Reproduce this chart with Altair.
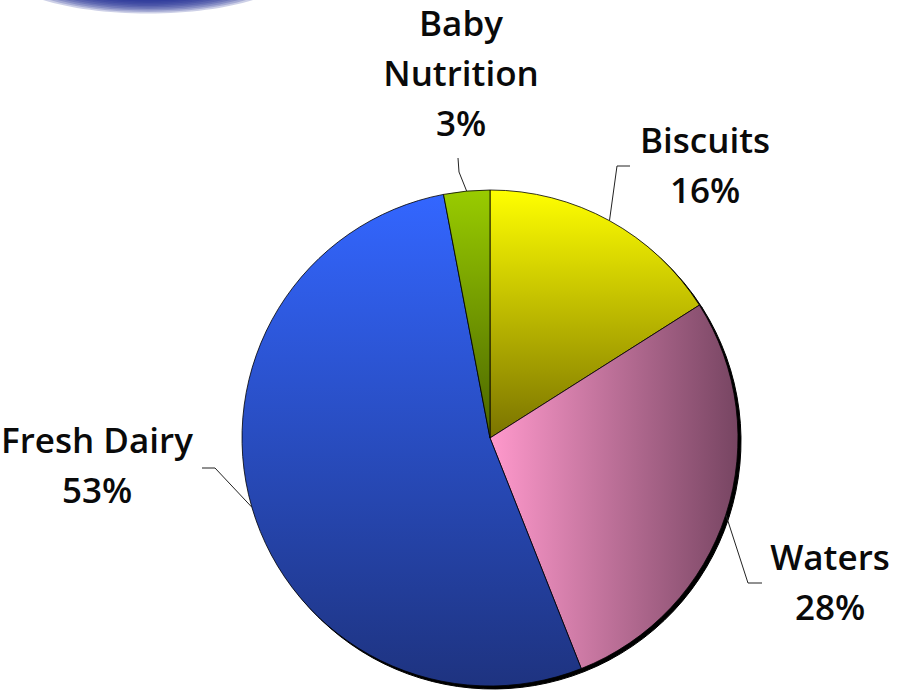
import altair as alt
import pandas as pd

# ---- data ----
categories = ["Biscuits", "Waters", "Fresh Dairy", "Baby Nutrition"]
values = [16, 28, 53, 3]
labels = ["Biscuits\n16%", "Waters\n28%", "Fresh Dairy\n53%", "Baby\nNutrition\n3%"]

# ---- layout (pixels) ----
CX, CY, R = 490, 438, 248
label_layout = {
    "Biscuits":       dict(tx=705, ty=153, ex=617, ey=166, hx=630, hy=166),
    "Waters":         dict(tx=830, ty=570, ex=748, ey=583, hx=762, hy=583),
    "Fresh Dairy":    dict(tx=97,  ty=453, ex=215, ey=468, hx=202, hy=468),
    "Baby Nutrition": dict(tx=461, ty=36,  ex=459, ey=172, hx=458, hy=158),
}
gradients = {
    "Biscuits": alt.LinearGradient(gradient="linear", x1=0, y1=0, x2=0, y2=1,
        stops=[alt.GradientStop(color="#FFFF00", offset=0), alt.GradientStop(color="#7A7300", offset=1)]),
    "Waters": alt.LinearGradient(gradient="linear", x1=0, y1=0, x2=1, y2=0,
        stops=[alt.GradientStop(color="#FF99CC", offset=0), alt.GradientStop(color="#774562", offset=1)]),
    "Fresh Dairy": alt.LinearGradient(gradient="linear", x1=0, y1=0, x2=0, y2=1,
        stops=[alt.GradientStop(color="#3366FF", offset=0), alt.GradientStop(color="#1E3380", offset=1)]),
    "Baby Nutrition": alt.LinearGradient(gradient="linear", x1=0, y1=0, x2=0, y2=1,
        stops=[alt.GradientStop(color="#99CC00", offset=0), alt.GradientStop(color="#4A6400", offset=1)]),
}

rows = []
for i, (c, v, l) in enumerate(zip(categories, values, labels)):
    row = dict(idx=i, category=c, value=v, label=l)
    row.update(label_layout[c])
    rows.append(row)
df = pd.DataFrame(rows)

base = (
    alt.Chart(df)
    .transform_joinaggregate(total="sum(value)")
    .transform_window(cum="sum(value)", sort=[alt.SortField("idx")])
    .transform_calculate(
        t0="(datum.cum - datum.value) / datum.total * 2 * PI",
        t1="datum.cum / datum.total * 2 * PI",
    )
    .transform_calculate(mid="(datum.t0 + datum.t1) / 2")
    .transform_calculate(
        x0=f"{CX} + {R} * sin(datum.mid)",
        y0=f"{CY} - {R} * cos(datum.mid)",
    )
)

theta_enc = dict(theta=alt.Theta("t0:Q", scale=None), theta2=alt.Theta2("t1:Q"))

shadow = base.mark_arc(radius=R, fill="black", stroke="black", strokeWidth=1).encode(
    x=alt.value(CX + 3), y=alt.value(CY + 3), **theta_enc
)

slices = []
for c in categories:
    slices.append(
        base.transform_filter(alt.datum.category == c)
        .mark_arc(radius=R, fill=gradients[c], stroke="black", strokeWidth=0.8)
        .encode(x=alt.value(CX), y=alt.value(CY), **theta_enc)
    )

leader1 = base.mark_rule(color="#222", strokeWidth=1).encode(
    x=alt.X("x0:Q", scale=None), y=alt.Y("y0:Q", scale=None),
    x2=alt.X2("ex:Q"), y2=alt.Y2("ey:Q"),
)
leader2 = base.mark_rule(color="#222", strokeWidth=1).encode(
    x=alt.X("ex:Q", scale=None), y=alt.Y("ey:Q", scale=None),
    x2=alt.X2("hx:Q"), y2=alt.Y2("hy:Q"),
)

text = base.mark_text(
    align="center", baseline="alphabetic", lineBreak="\n", lineHeight=50,
    font="Open Sans", fontSize=35, fontWeight=600, color="#0a0a0a",
).encode(
    x=alt.X("tx:Q", scale=None), y=alt.Y("ty:Q", scale=None), text="label:N"
)

# blurred logo fragment at the top-left: stacked translucent ellipses
glow_sizes = [(2 * hw) ** 2 for hw in range(80, 150, 5)]
blob = alt.Chart(pd.DataFrame({"s": glow_sizes})).mark_point(
    shape="M -1 0 A 1 0.3 0 1 1 1 0 A 1 0.3 0 1 1 -1 0 Z",
    filled=True, fill="#1a2890", fillOpacity=0.22, strokeWidth=0,
).encode(x=alt.value(148), y=alt.value(-30), size=alt.Size("s:Q", scale=None, legend=None))

chart = alt.layer(blob, shadow, *slices, leader1, leader2, text).properties(
    width=897, height=693, padding=0, autosize=alt.AutoSizeParams(type="none"),
    background="white",
).configure_view(stroke=None)

chart.save("out.html", embed_options={"renderer": "svg", "actions": False})
